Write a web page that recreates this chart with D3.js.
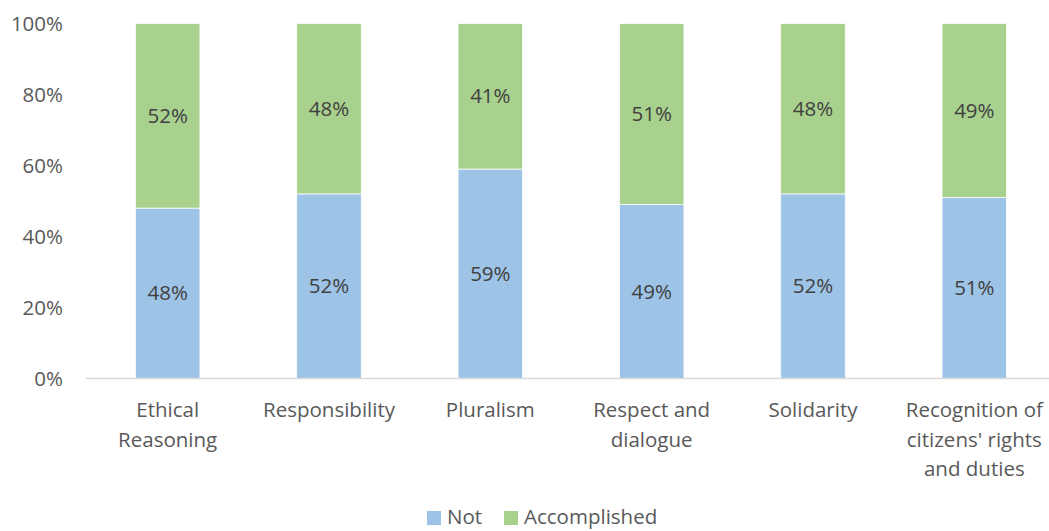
<!DOCTYPE html>
<html><head><meta charset="utf-8">
<script src="https://cdn.jsdelivr.net/npm/d3@7"></script>
<style>body{margin:0;background:#fff}text{font-family:"Open Sans",sans-serif;fill:#595959}</style>
</head><body>
<svg id="c" width="1049" height="531"></svg>
<script>
const categories = [["Ethical","Reasoning"],["Responsibility"],["Pluralism"],["Respect and","dialogue"],["Solidarity"],["Recognition of","citizens' rights","and duties"]];
const notValues = [48,52,59,49,52,51];
const accValues = [52,48,41,51,48,49];
const yTicks = [0,20,40,60,80,100];
const seriesNames = ["Not","Accomplished"];
const colors = ["#9DC3E6","#A9D18E"];

const svg = d3.select("#c");
const ids = categories.map((c,i)=>i);
const x = d3.scaleBand().domain(ids).range([87,1055]).paddingInner(0.6).paddingOuter(0.3);
const y = d3.scaleLinear().domain([0,100]).range([378.5,23.5]);
const fs = 20.5;

// y axis labels
svg.append("g").selectAll("text").data(yTicks).join("text")
  .attr("x",63).attr("y",d=>y(d)).attr("dy","0.35em").attr("text-anchor","end")
  .attr("font-size",fs).text(d=>d+"%");

const stackData = ids.map(i=>({i, Not:notValues[i], Accomplished:accValues[i]}));
const stack = d3.stack().keys(seriesNames)(stackData);

const g = svg.append("g");
stack.forEach((s,k)=>{
  g.selectAll(null).data(s).join("rect")
   .attr("x",d=>x(d.data.i)).attr("width",x.bandwidth())
   .attr("y",d=>y(d[1])).attr("height",d=>y(d[0])-y(d[1]))
   .attr("fill",colors[k]).attr("stroke","#fff").attr("stroke-width",0.75);
  g.selectAll(null).data(s).join("text")
   .attr("x",d=>x(d.data.i)+x.bandwidth()/2).attr("y",d=>(y(d[0])+y(d[1]))/2)
   .attr("dy","0.35em").attr("text-anchor","middle").attr("font-size",fs)
   .style("fill","#404040")
   .text(d=>(d[1]-d[0])+"%");
});

// x axis line
svg.append("line").attr("x1",86).attr("x2",1049).attr("y1",y(0)).attr("y2",y(0))
  .attr("stroke","#d9d9d9").attr("stroke-width",1.5);

// category labels
const cl = svg.append("g").selectAll("text").data(ids).join("text")
  .attr("x",i=>x(i)+x.bandwidth()/2).attr("y",417).attr("text-anchor","middle").attr("font-size",fs);
cl.each(function(i){
  d3.select(this).selectAll("tspan").data(categories[i]).join("tspan")
    .attr("x",x(i)+x.bandwidth()/2).attr("dy",(d,j)=>j===0?0:29.5).text(d=>d);
});

// legend
const lg = svg.append("g");
const legPos = [427,504];
seriesNames.forEach((n,k)=>{
  lg.append("rect").attr("x",legPos[k]).attr("y",511).attr("width",14).attr("height",14).attr("fill",colors[k]);
  lg.append("text").attr("x",legPos[k]+20).attr("y",517).attr("dy","0.35em").attr("font-size",fs).text(n);
});
</script>
</body></html>
